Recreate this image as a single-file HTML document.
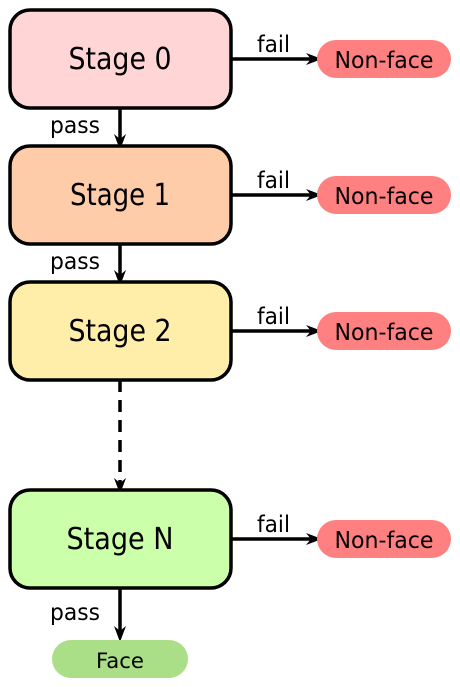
<!DOCTYPE html>
<html><head><meta charset="utf-8"><style>
html,body{margin:0;padding:0;background:#fff;}
svg{display:block;}
text{font-family:"DejaVu Sans","Liberation Sans",sans-serif;fill:#000;}
</style></head><body>
<svg width="460" height="687" viewBox="0 0 460 687" xmlns="http://www.w3.org/2000/svg">
<g stroke="#000" stroke-width="3.5">
<line x1="120" y1="108" x2="120" y2="140"/>
<line x1="120" y1="244" x2="120" y2="276"/>
<line x1="120" y1="380" x2="120" y2="484" stroke-dasharray="12,8"/>
<line x1="120" y1="588" x2="120" y2="634"/>
<line x1="231" y1="59" x2="312" y2="59"/>
<line x1="231" y1="195" x2="312" y2="195"/>
<line x1="231" y1="331" x2="312" y2="331"/>
<line x1="231" y1="539" x2="312" y2="539"/>
</g>
<g fill="#000">
<path d="M114,134 L120,150 L126,134 L120,139 Z"/>
<path d="M114,270 L120,286 L126,270 L120,275 Z"/>
<path d="M114,478 L120,494 L126,478 L120,483 Z"/>
<path d="M114,626 L120,642 L126,626 L120,631 Z"/>
<path d="M306,53 L322,59 L306,65 L311,59 Z"/>
<path d="M306,189 L322,195 L306,201 L311,195 Z"/>
<path d="M306,325 L322,331 L306,337 L311,331 Z"/>
<path d="M306,533 L322,539 L306,545 L311,539 Z"/>
</g>
<g stroke="#000" stroke-width="3.5">
<rect x="10" y="10" width="221" height="98" rx="20" fill="#ffd5d5"/>
<rect x="10" y="146" width="221" height="98" rx="20" fill="#ffccaa"/>
<rect x="10" y="282" width="221" height="98" rx="20" fill="#ffeeaa"/>
<rect x="10" y="490" width="221" height="98" rx="20" fill="#ccffaa"/>
</g>
<g fill="#ff8080">
<rect x="317" y="40" width="134" height="38" rx="19"/>
<rect x="317" y="176" width="134" height="38" rx="19"/>
<rect x="317" y="312" width="134" height="38" rx="19"/>
<rect x="317" y="520" width="134" height="38" rx="19"/>
</g>
<rect x="52" y="640" width="136" height="38" rx="19" fill="#aade87"/>
<g font-size="30" text-anchor="middle">
<text x="120" y="69" textLength="103" lengthAdjust="spacingAndGlyphs">Stage 0</text>
<text x="120" y="205" textLength="100" lengthAdjust="spacingAndGlyphs">Stage 1</text>
<text x="120" y="341" textLength="103" lengthAdjust="spacingAndGlyphs">Stage 2</text>
<text x="120" y="549" textLength="107" lengthAdjust="spacingAndGlyphs">Stage N</text>
</g>
<g font-size="23" text-anchor="middle">
<text x="384" y="68" textLength="99" lengthAdjust="spacingAndGlyphs">Non-face</text>
<text x="384" y="204" textLength="99" lengthAdjust="spacingAndGlyphs">Non-face</text>
<text x="384" y="340" textLength="99" lengthAdjust="spacingAndGlyphs">Non-face</text>
<text x="384" y="548" textLength="99" lengthAdjust="spacingAndGlyphs">Non-face</text>
<text x="120" y="668" font-size="21" textLength="48" lengthAdjust="spacingAndGlyphs">Face</text>
</g>
<g font-size="23">
<text x="257" y="52" textLength="33" lengthAdjust="spacingAndGlyphs">fail</text>
<text x="257" y="188" textLength="33" lengthAdjust="spacingAndGlyphs">fail</text>
<text x="257" y="324" textLength="33" lengthAdjust="spacingAndGlyphs">fail</text>
<text x="257" y="532" textLength="33" lengthAdjust="spacingAndGlyphs">fail</text>
<text x="50" y="133" textLength="50" lengthAdjust="spacingAndGlyphs">pass</text>
<text x="50" y="269" textLength="50" lengthAdjust="spacingAndGlyphs">pass</text>
<text x="50" y="620" textLength="50" lengthAdjust="spacingAndGlyphs">pass</text>
</g>
</svg>
</body></html>
